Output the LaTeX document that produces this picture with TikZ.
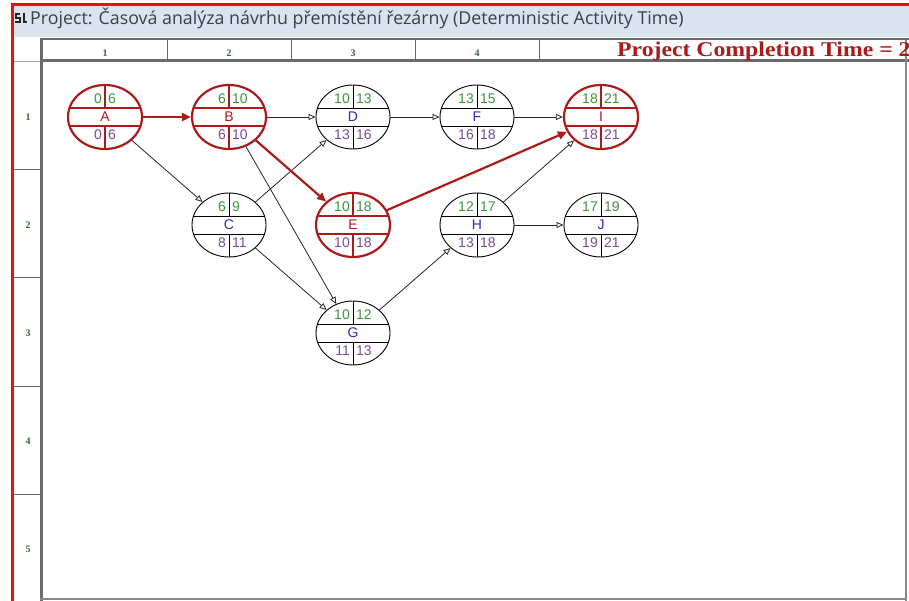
\documentclass[tikz,border=0pt]{standalone}
\usepackage{fontspec}
\setmainfont{Liberation Sans}
\newfontfamily\titlefont{Open Sans}
\newfontfamily\gridfont{Liberation Serif}
\usepackage{tikz}
\usetikzlibrary{
  arrows.meta,
  shapes.geometric,
  calc,
}
\definecolor{cRed}   {HTML}{E01414}
\definecolor{cCrit}  {HTML}{AC1A1A}
\definecolor{cEarly} {HTML}{3E923E}
\definecolor{cLate}  {HTML}{7B4B90}
\definecolor{cName}  {HTML}{2C2CB0}
\definecolor{cGrid}  {HTML}{6A6A6A}
\definecolor{cLabel} {HTML}{2F6B2F}
\definecolor{cBar}   {HTML}{DAE3EE}
\definecolor{cTitle} {HTML}{3A4048}

\begin{document}
\begin{tikzpicture}[
  x=1pt, y=-1pt,
  font=\fontsize{14}{16}\selectfont,
  %
  act/.style={ellipse, draw=#1, minimum width=74pt, minimum height=64pt,
              inner sep=0pt},
  early/.style={text=cEarly, inner sep=0pt},
  late/.style={text=cLate, inner sep=0pt},
  crit arrow/.style={-{Triangle[length=9pt, width=8pt]}, draw=cCrit,
                     line width=2.2pt},
  norm arrow/.style={-{Triangle[open, length=7pt, width=6pt]},
                     draw=black!85, line width=0.8pt},
  gridlbl/.style={font=\gridfont\bfseries\fontsize{10}{11}\selectfont,
                  text=cLabel, inner sep=0pt},
  gridline/.style={draw=cGrid, line width=1pt},
]
\useasboundingbox (0,0) rectangle (909,601);
\begin{scope}
\clip (0,0) rectangle (909,601);

% ────────────── WINDOW FRAME ───────────────────────────────────────────────
\fill[cBar] (14,6) rectangle (909,37);
\draw[line width=1.3pt, black!85] (20,14) -- (16,14) -- (16,18) -- (20,18)
      -- (20,22) -- (15,22);
\draw[line width=1.3pt, black!85] (24,13) -- (24,22) -- (27,22);
\node[anchor=base west, inner sep=0pt, text=cTitle,
      font=\titlefont\fontsize{17.8}{20}\selectfont] (title) at (30,25)
     {Project: Časová analýza návrhu přemístění řezárny (Deterministic Activity Time)};

% header row + row header column
\draw[cGrid, line width=2pt] (40,39.5) -- (909,39.5);
\draw[cGrid, line width=3pt] (40,61) -- (909,61);
\draw[cGrid!60, line width=1pt] (14,62) -- (40,62);
\draw[cGrid, line width=3pt] (41.5,39) -- (41.5,601);
\draw[cGrid!80, line width=2pt] (906,40) -- (906,601);
\draw[cGrid!80, line width=2pt] (40,598.5) -- (906,598.5);

\foreach \i in {1,...,4} {
  \draw[gridline] ({43+124*\i},40) -- ({43+124*\i},60);
  \node[gridlbl] (col\i) at ({105+124*(\i-1)},53) {\i};
}
\foreach \i in {1,...,5} {
  \node[gridlbl] (row\i) at (28,{117+108*(\i-1)}) {\i};
}
\foreach \i in {1,...,4} {
  \draw[gridline] (14,{62+108*\i}) -- (40,{62+108*\i});
}

\node[anchor=base west, inner sep=0pt, text=cCrit,
      font=\gridfont\bfseries\fontsize{21}{23}\selectfont] (ctime) at (617,57)
     {\scalebox{1.13}[1]{Project Completion Time = 2}};

\draw[cRed, line width=3pt] (12.5,601) -- (12.5,4.5) -- (909,4.5);

% ────────────── ACTIVITIES (name/col/row/ES/EF/LS/LF/colour/width/text) ───
\foreach \n/\cx/\ry/\es/\ef/\ls/\lf/\k/\lw/\tc in {
  A/1/1/0/6/0/6/cCrit/2.2pt/cCrit,
  B/2/1/6/10/6/10/cCrit/2.2pt/cCrit,
  D/3/1/10/13/13/16/black/0.9pt/cName,
  F/4/1/13/15/16/18/black/0.9pt/cName,
  I/5/1/18/21/18/21/cCrit/2.2pt/cCrit,
  C/2/2/6/9/8/11/black/0.9pt/cName,
  E/3/2/10/18/10/18/cCrit/2.2pt/cCrit,
  H/4/2/12/17/13/18/black/0.9pt/cName,
  J/5/2/17/19/19/21/black/0.9pt/cName,
  G/3/3/10/12/11/13/black/0.9pt/cName%
} {
  \node[act=\k, line width=\lw, text=\tc] (\n)
       at ({105+124*(\cx-1)}, {117+108*(\ry-1)}) {\n};
  \begin{scope}
    \clip (\n.center) ellipse [x radius=37pt, y radius=32pt];
    \draw[draw=\k, line width=\lw] ($(\n)+(-40,-9)$) -- ($(\n)+(40,-9)$);
    \draw[draw=\k, line width=\lw] ($(\n)+(-40,9)$) -- ($(\n)+(40,9)$);
    \draw[draw=\k, line width=\lw] ($(\n)+(0,-9)$) -- ($(\n)+(0,-40)$);
    \draw[draw=\k, line width=\lw] ($(\n)+(0,9)$) -- ($(\n)+(0,40)$);
  \end{scope}
  \node[early, anchor=east] (\n es) at ($(\n)+(-3,-18.5)$) {\es};
  \node[early, anchor=west] (\n ef) at ($(\n)+(3,-18.5)$)  {\ef};
  \node[late,  anchor=east] (\n ls) at ($(\n)+(-3,17.5)$)  {\ls};
  \node[late,  anchor=west] (\n lf) at ($(\n)+(3,17.5)$)   {\lf};
}

% ────────────── PRECEDENCES ────────────────────────────────────────────────
\draw[norm arrow] (A) -- (C);
\draw[norm arrow] (B) -- (D);
\draw[norm arrow] (B) -- (G);
\draw[norm arrow] (C) -- (D);
\draw[norm arrow] (C) -- (G);
\draw[norm arrow] (D) -- (F);
\draw[norm arrow] (F) -- (I);
\draw[norm arrow] (G) -- (H);
\draw[norm arrow] (H) -- (I);
\draw[norm arrow] (H) -- (J);

% critical path
\draw[crit arrow] (A) -- (B);
\draw[crit arrow] (B) -- (E);
\draw[crit arrow] (E) -- (I);

\end{scope}
\end{tikzpicture}
\end{document}
